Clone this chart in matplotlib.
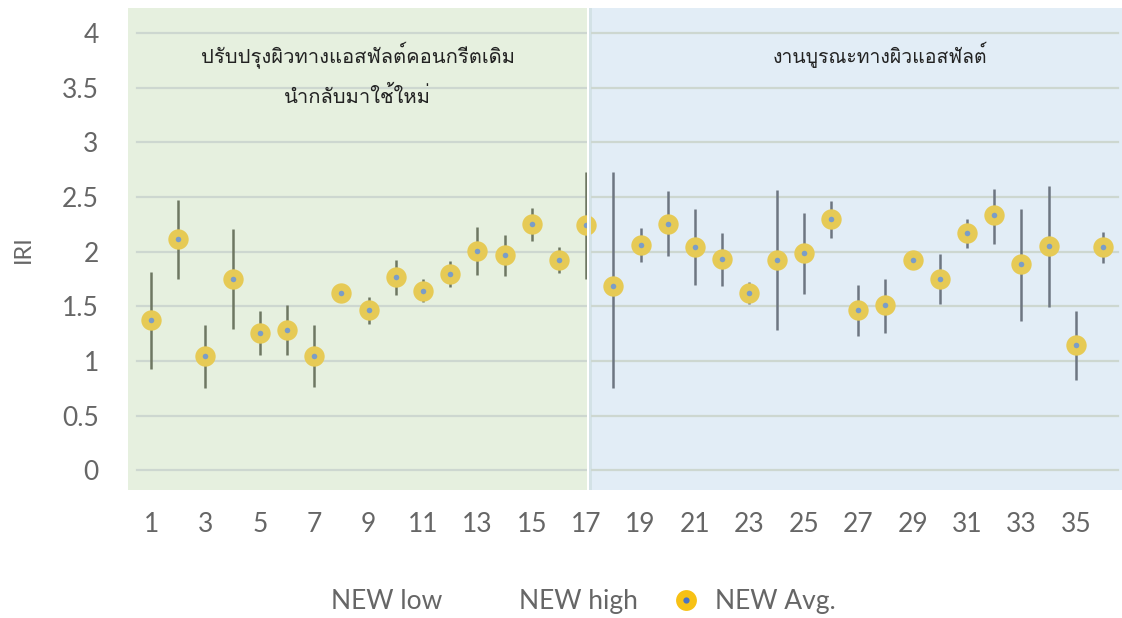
import matplotlib

matplotlib.use("Agg")
import matplotlib.pyplot as plt
from matplotlib import font_manager
from matplotlib.ft2font import FT2Font
from matplotlib.lines import Line2D
import numpy as np

# IRI per section
sections = list(range(1, 37))
iri_avg = [1.375, 2.115, 1.044, 1.754, 1.258, 1.286, 1.044, 1.622, 1.469, 1.769,
           1.644, 1.800, 2.011, 1.974, 2.255, 1.928, 2.243,
           1.683, 2.066, 2.258, 2.044, 1.934, 1.625, 1.928, 1.986, 2.301,
           1.466, 1.509, 1.928, 1.754, 2.173, 2.332, 1.885, 2.050, 1.148, 2.041]
iri_low = [0.925, 1.750, 0.757, 1.292, 1.054, 1.054, 0.760, 1.590, 1.341, 1.601,
           1.537, 1.677, 1.784, 1.781, 2.102, 1.803, 1.748,
           0.757, 1.904, 1.959, 1.693, 1.690, 1.524, 1.280, 1.613, 2.127,
           1.234, 1.258, 1.900, 1.524, 2.035, 2.075, 1.365, 1.494, 0.830, 1.898]
iri_high = [1.815, 2.472, 1.326, 2.206, 1.454, 1.509, 1.326, 1.650, 1.586, 1.922,
            1.748, 1.913, 2.228, 2.154, 2.402, 2.044, 2.732,
            2.732, 2.222, 2.552, 2.387, 2.173, 1.720, 2.564, 2.353, 2.469,
            1.693, 1.751, 1.955, 1.977, 2.301, 2.576, 2.396, 2.604, 1.457, 2.179]
n_recycled = 17  # sections 1-17: recycled concrete/asphalt, 18-36: maintenance
label_recycled = "ปรับปรุงผิวทางแอสฟัลต์คอนกรีตเดิม\nนำกลับมาใช้ใหม่"
label_maint = "งานบูรณะทางผิวแอสฟัลต์"
legend_labels = ["NEW low", "NEW high", "NEW Avg."]


def _thai_font():
    for f in font_manager.fontManager.ttflist:
        try:
            if 0x0E1B in FT2Font(f.fname).get_charmap():
                return f.name
        except Exception:
            continue
    return "DejaVu Sans"


thai = _thai_font()
plt.rcParams["font.family"] = ["Lato", "DejaVu Sans"]

x = np.array(sections)
avg = np.array(iri_avg)
lo = np.array(iri_low)
hi = np.array(iri_high)
left = x <= n_recycled

fig = plt.figure(figsize=(11.22, 6.18), dpi=100)
ax = fig.add_axes([0.114, 0.207, 0.886, 0.78])
ax.set_xlim(0.15, 36.7)
ax.set_ylim(-0.18, 4.23)

ax.axvspan(0.15, 17.05, color="#e6f0df", zorder=0, lw=0)
ax.axvspan(17.2, 36.7, color="#e2edf6", zorder=0, lw=0)
ax.axvspan(17.1, 17.2, color="#d3e2e6", zorder=0, lw=0)
for yv in np.arange(0, 4.01, 0.5):
    ax.plot([0.5, 36.55], [yv, yv], color="#cdd7d0", lw=1.6, zorder=1)

ax.vlines(x[left], lo[left], hi[left], color="#6e7762", lw=1.8, zorder=2)
ax.vlines(x[~left], lo[~left], hi[~left], color="#6d7681", lw=1.8, zorder=2)
ax.scatter(x, avg, s=215, color="#e6ca55", zorder=3, lw=0)
ax.scatter(x, avg, s=16, color="#7b9dc7", zorder=4, lw=0)
# clipping edge between the two panels
ax.axvspan(17.04, 17.1, color="white", zorder=5, lw=0)
ax.axvspan(17.1, 17.17, color="#d3e2e6", zorder=5, lw=0)

ax.text(8.6, 3.62, label_recycled, ha="center", va="center", fontsize=14.5,
        linespacing=2.0, color="#222222", family=[thai, "DejaVu Sans"])
ax.text(27.8, 3.80, label_maint, ha="center", va="center", fontsize=14,
        color="#222222", family=[thai, "DejaVu Sans"])

ax.set_xticks(range(1, 37, 2))
ax.set_yticks(np.arange(0, 4.01, 0.5))
ax.set_yticklabels(["0", "0.5", "1", "1.5", "2", "2.5", "3", "3.5", "4"])
ax.tick_params(length=0, labelsize=19, colors="#666666", pad=16)
ax.tick_params(axis="y", pad=21)
for s in ax.spines.values():
    s.set_visible(False)
ax.set_ylabel("IRI", fontsize=17, color="#666666", labelpad=20)

handles = [
    Line2D([], [], color="none"),
    Line2D([], [], color="none"),
    (Line2D([], [], marker="o", ls="none", markersize=15, markerfacecolor="#f7c115",
            markeredgewidth=0),
     Line2D([], [], marker="o", ls="none", markersize=4.5, markerfacecolor="#4a72c4",
            markeredgewidth=0)),
]
leg = fig.legend(handles, legend_labels, loc="center", bbox_to_anchor=(0.5, 0.027),
                 ncol=3, frameon=False, fontsize=19, labelcolor="#666666",
                 handlelength=1.2, columnspacing=1.2, handletextpad=0.5)
fig.savefig("out.png", dpi=100)
